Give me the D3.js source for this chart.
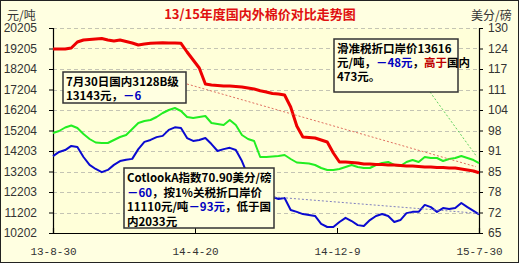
<!DOCTYPE html>
<html>
<head>
<meta charset="utf-8">
<script src="https://cdn.jsdelivr.net/npm/d3@7"></script>
<style>
  body { margin: 0; background: #fff; }
  svg { display: block; font-family: "Liberation Sans", Arial, sans-serif; }
  .note { font-family: "Noto Sans CJK SC", sans-serif; font-weight: bold; font-size: 11.5px; }
</style>
</head>
<body>
<svg id="chart" width="522" height="266"></svg>
<script>
// sample dates, every 10 days
var dates = ["2013-08-30","2013-09-09","2013-09-19","2013-09-29","2013-10-09","2013-10-19","2013-10-29",
  "2013-11-08","2013-11-18","2013-11-28","2013-12-08","2013-12-18","2013-12-28","2014-01-07","2014-01-17",
  "2014-01-27","2014-02-06","2014-02-16","2014-02-26","2014-03-08","2014-03-18","2014-03-28","2014-04-07",
  "2014-04-17","2014-04-27","2014-05-07","2014-05-17","2014-05-27","2014-06-06","2014-06-16","2014-06-26",
  "2014-07-06","2014-07-16","2014-07-26","2014-08-05","2014-08-15","2014-08-25","2014-09-04","2014-09-14",
  "2014-09-24","2014-10-04","2014-10-14","2014-10-24","2014-11-03","2014-11-13","2014-11-23","2014-12-03",
  "2014-12-13","2014-12-23","2015-01-02","2015-01-12","2015-01-22","2015-02-01","2015-02-11","2015-02-21",
  "2015-03-03","2015-03-13","2015-03-23","2015-04-02","2015-04-12","2015-04-22","2015-05-02","2015-05-12",
  "2015-05-22","2015-06-01","2015-06-11","2015-06-21","2015-07-01","2015-07-11","2015-07-21","2015-07-30"];

// 国内3128B级 (元/吨)
var domestic = [19180,19180,19180,19229,19522,19619,19644,19668,19693,19619,19571,19619,19546,19473,19376,
  19424,19458,19473,19488,19473,19473,19458,19034,18644,18253,17473,17424,17399,17375,17375,17351,
  17326,17277,17229,17146,17082,17009,16985,16936,16350,15423,14886,14862,14838,14740,14642,14106,
  13666,13666,13642,13618,13569,13569,13545,13545,13520,13520,13496,13471,13471,13447,13423,13423,
  13398,13398,13374,13374,13325,13276,13227,13143];

// 滑准税折口岸价 (元/吨)
var importPrice = [15082,15179,15350,15448,15326,15033,14789,14618,14594,14594,14740,14886,14984,15277,15570,
  15667,15716,15862,16057,16204,16301,16155,15862,15813,15862,15911,15570,15521,15472,15716,15472,
  14984,14789,14691,13910,13910,13935,13959,14008,13813,13642,13618,13593,13520,13374,13276,13276,
  13325,13423,13520,13423,13374,13374,13520,13618,13666,13520,13471,13666,13764,13666,13910,13862,
  13862,13715,13813,13862,13959,13862,13764,13616];

// CotlookA指数 (美分/磅)
var cotlook = [89.4,90.7,91.3,92.6,92.3,89.1,86.6,85.3,84.3,85.0,86.6,87.8,88.2,88.5,91.6,
  93.9,94.5,95.4,95.8,97.7,98.5,98.3,95.1,94.2,94.5,95.1,93.2,91.0,91.6,92.0,91.3,
  87.8,83.1,80.5,78.6,77.4,76.4,75.8,76.1,72.3,71.7,71.0,70.7,70.4,67.9,66.9,66.9,
  68.5,69.8,68.8,67.5,67.2,69.1,70.4,71.0,70.4,68.5,69.1,71.3,71.7,71.7,73.9,73.2,
  71.7,72.9,72.6,72.9,74.5,73.2,72.0,70.9];

var leftTickLabels = ["10202","11202","12203","13203","14203","15204","16204","17204","18204","19205","20205"];
var rightTickLabels = ["65","72","78","85","91","98","104","111","117","124","130"];
var xTickDates = ["2013-08-30","2014-04-20","2014-12-09","2015-07-30"];
var xTickLabels = ["13-8-30","14-4-20","14-12-9","15-7-30"];

var parse = d3.timeParse("%Y-%m-%d");
var svg = d3.select("#chart");

var pL = 53, pR = 479, pT = 28, pB = 233;

// page background + frame
svg.append("rect").attr("x", 0.5).attr("y", 0.5).attr("width", 518).attr("height", 262)
  .attr("fill", "#ffffe1").attr("stroke", "#222");
svg.append("rect").attr("x", pL).attr("y", pT).attr("width", pR - pL).attr("height", pB - pT)
  .attr("fill", "#ffffd9");

var x = d3.scaleTime().domain([parse(dates[0]), parse(dates[dates.length - 1])]).range([pL, pR]);
var yL = d3.scaleLinear().domain([10202, 20205]).range([pB, pT]);
var yR = d3.scaleLinear().domain([65, 130]).range([pB, pT]);

var leftVals = d3.range(leftTickLabels.length).map(function(i) { return 10202 + i * (20205 - 10202) / 10; });
var rightVals = d3.range(rightTickLabels.length).map(function(i) { return 65 + i * 6.5; });

// dashed grid
svg.append("g").selectAll("line").data(leftVals.slice(1)).enter().append("line")
  .attr("x1", pL).attr("x2", pR)
  .attr("y1", function(d) { return Math.round(yL(d)) + 0.5; })
  .attr("y2", function(d) { return Math.round(yL(d)) + 0.5; })
  .attr("stroke", "#c4c4b4").attr("stroke-dasharray", "4,3");

// axes
var axL = svg.append("g").attr("transform", "translate(" + pL + ",0)")
  .call(d3.axisLeft(yL).tickValues(leftVals).tickSize(4).tickPadding(12)
    .tickFormat(function(d, i) { return leftTickLabels[i]; }));
var axR = svg.append("g").attr("transform", "translate(" + pR + ",0)")
  .call(d3.axisRight(yR).tickValues(rightVals).tickSize(4).tickPadding(5)
    .tickFormat(function(d, i) { return rightTickLabels[i]; }));
var axB = svg.append("g").attr("transform", "translate(0," + pB + ")")
  .call(d3.axisBottom(x).tickValues(xTickDates.map(parse)).tickSize(-5).tickPadding(14)
    .tickFormat(function(d, i) { return xTickLabels[i]; }));

[axL, axR, axB].forEach(function(g) {
  g.selectAll("path").attr("stroke", "#000").attr("stroke-width", 1.2);
  g.selectAll("line").attr("stroke", "#000");
  g.selectAll("text").attr("fill", "#333").style("font-size", "12px")
    .style("font-family", "'Liberation Sans', sans-serif");
});
axB.selectAll("text").style("font-family", "'Liberation Mono', monospace").style("font-size", "11px");

// titles
svg.append("text").attr("x", 260).attr("y", 19).attr("text-anchor", "middle")
  .style("font-family", "'Noto Sans CJK SC', sans-serif").style("font-size", "13px").style("font-weight", "bold")
  .attr("fill", "#e01010").text("13/15年度国内外棉价对比走势图");
svg.append("text").attr("x", 7).attr("y", 20)
  .style("font-family", "'Noto Sans CJK SC', sans-serif").style("font-size", "12px")
  .attr("fill", "#333").text("元/吨");
svg.append("text").attr("x", 471).attr("y", 20)
  .style("font-family", "'Noto Sans CJK SC', sans-serif").style("font-size", "12px")
  .attr("fill", "#333").text("美分/磅");

// lines
var data = dates.map(function(d, i) {
  return { date: parse(d), dom: domestic[i], imp: importPrice[i], cot: cotlook[i] };
});
function drawLine(key, scale, color, w) {
  svg.append("path").datum(data)
    .attr("fill", "none").attr("stroke", color).attr("stroke-width", w)
    .attr("stroke-linejoin", "round")
    .attr("d", d3.line().x(function(d) { return x(d.date); }).y(function(d) { return scale(d[key]); }));
}
drawLine("cot", yR, "#0a0ad0", 2);
drawLine("imp", yL, "#22ee22", 2);
drawLine("dom", yL, "#ee0000", 3);

var last = data[data.length - 1];

// connectors (drawn before boxes)
function connector(x1, y1, x2, y2, color) {
  svg.append("line").attr("x1", x1).attr("y1", y1).attr("x2", x2).attr("y2", y2)
    .attr("stroke", color).attr("stroke-width", 1).attr("stroke-dasharray", "2,2");
}
connector(187, 84, x(last.date) - 3, yL(last.dom) - 6, "#e07060");
connector(430, 92, x(last.date) - 2, yL(last.imp) - 6, "#60d060");
connector(274, 197, x(last.date), yR(last.cot) - 1, "#8080c0");

// note boxes; coloured runs are separate text nodes placed one after another
function noteBox(bx, by, bw, bh, lines, lead) {
  svg.append("rect").attr("x", bx).attr("y", by).attr("width", bw).attr("height", bh)
    .attr("fill", "#ffffe1").attr("stroke", "#333").attr("stroke-width", 1.5);
  lines.forEach(function(parts, i) {
    var cx = bx + 3;
    parts.forEach(function(p) {
      var t = svg.append("text").attr("class", "note")
        .attr("x", cx).attr("y", by + 14 + i * lead)
        .attr("fill", p[1] || "#000").text(p[0]);
      cx += t.node().getComputedTextLength();
    });
  });
}

noteBox(63, 72, 123, 31, [
  [["7月30日国内3128B级"]],
  [["13143元，"], ["－6", "#0000c0"]]
], 14);
noteBox(334, 39, 124, 53, [
  [["滑准税折口岸价13616"]],
  [["元/吨，"], ["－48元", "#0000c0"], ["，"], ["高于", "#c00000"], ["国内"]],
  [["473元。"]]
], 14);
noteBox(124, 168, 150, 60, [
  [["CotlookA指数70.90美分/磅"]],
  [["－60", "#0000c0"], ["，按1%关税折口岸价"]],
  [["11110元/吨"], ["－93元", "#0000c0"], ["，低于国"]],
  [["内2033元"]]
], 14.5);
</script>
</body>
</html>
